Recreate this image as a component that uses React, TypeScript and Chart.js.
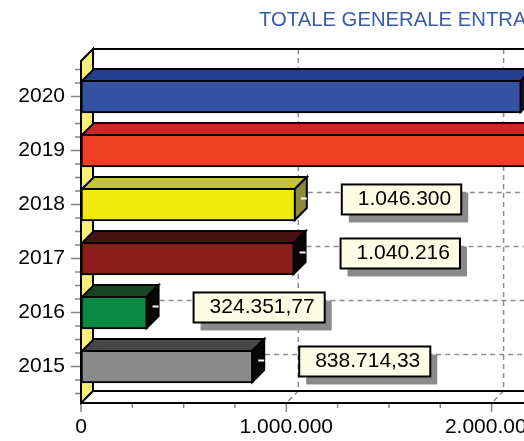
import React, { useEffect, useRef } from 'react';
import { Chart, registerables } from 'chart.js';

Chart.register(...registerables);

// ---- data ----
const years = ['2015', '2016', '2017', '2018', '2019', '2020'];
const values = [838714.33, 324351.77, 1040216, 1046300, 2300000, 2146000];
const xTickValues = [0, 1000000, 2000000, 3000000];
const titleText = 'TOTALE GENERALE ENTRATE';

// ---- styles ----
const frontColors = ['#8a8a8a', '#0b8a45', '#8a1e1b', '#f0ea0f', '#ef4024', '#3452a4'];
const topColors = ['#474747', '#194522', '#461312', '#c5c732', '#c82b26', '#263e90'];
const sideColors = ['#080808', '#050805', '#0a0505', '#8d8b3a', '#3a0a08', '#0c1430'];

const W = 830;
const H = 441;
const DEPTH = 12;
const X_MAX = 3550000;
const FONT = '"Liberation Sans", Arial, Helvetica, sans-serif';

function fmt(v: number): string {
  const isInt = Math.abs(v - Math.round(v)) < 1e-9;
  const s = isInt ? Math.round(v).toString() : v.toFixed(2);
  const [ip, dp] = s.split('.');
  const g = ip.replace(/\B(?=(\d{3})+(?!\d))/g, '.');
  return dp ? g + ',' + dp : g;
}

function poly(ctx: CanvasRenderingContext2D, pts: number[][]) {
  ctx.beginPath();
  ctx.moveTo(pts[0][0], pts[0][1]);
  for (let i = 1; i < pts.length; i++) ctx.lineTo(pts[i][0], pts[i][1]);
  ctx.closePath();
  ctx.fill();
  ctx.stroke();
}

const threeD = {
  id: 'threeD',
  beforeDatasetsDraw(chart: any) {
    const ctx: CanvasRenderingContext2D = chart.ctx;
    const { left: L, right: R, top: T, bottom: B } = chart.chartArea;
    const D = DEPTH;
    const xs = chart.scales.x;
    ctx.save();
    // back wall + floor fill
    ctx.fillStyle = '#ffffff';
    ctx.fillRect(L + D, T - D, R - L, B - T);
    ctx.beginPath();
    ctx.moveTo(L, B);
    ctx.lineTo(L + D, B - D);
    ctx.lineTo(R + D, B - D);
    ctx.lineTo(R, B);
    ctx.closePath();
    ctx.fill();
    // gridlines
    ctx.strokeStyle = '#8c8c8c';
    ctx.lineWidth = 1.5;
    ctx.setLineDash([5, 4]);
    xTickValues.forEach((v) => {
      if (v === 0) return;
      const px = xs.getPixelForValue(v);
      ctx.beginPath();
      ctx.moveTo(px + D, T - D);
      ctx.lineTo(px + D, B - D);
      ctx.lineTo(px, B);
      ctx.stroke();
    });
    // leader lines
    const meta = chart.getDatasetMeta(0);
    meta.data.forEach((el: any) => {
      const { x, y } = el.getProps(['x', 'y'], true);
      ctx.beginPath();
      ctx.moveTo(x + D, y - D);
      ctx.lineTo(R + D, y - D);
      ctx.stroke();
    });
    ctx.setLineDash([]);
    // left wall
    ctx.fillStyle = '#f6f07a';
    ctx.strokeStyle = '#000';
    ctx.lineWidth = 2;
    poly(ctx, [[L, T], [L + D, T - D], [L + D, B - D], [L, B]]);
    // edges
    ctx.beginPath();
    ctx.moveTo(L + D, T - D);
    ctx.lineTo(R + D, T - D);
    ctx.moveTo(L + D, B - D);
    ctx.lineTo(R + D, B - D);
    ctx.moveTo(L, B);
    ctx.lineTo(R, B);
    ctx.stroke();
    ctx.restore();
  },
  afterDatasetsDraw(chart: any) {
    const ctx: CanvasRenderingContext2D = chart.ctx;
    const D = DEPTH;
    const meta = chart.getDatasetMeta(0);
    ctx.save();
    ctx.lineWidth = 2;
    ctx.lineJoin = 'miter';
    meta.data.forEach((el: any, i: number) => {
      const { x, y, base, height } = el.getProps(['x', 'y', 'base', 'height'], true);
      const t = y - height / 2 + 1;
      const b = y + height / 2 - 1;
      const xe = x - 1;
      const xb = base + 1;
      ctx.strokeStyle = '#000';
      ctx.fillStyle = topColors[i];
      poly(ctx, [[xb, t], [xb + D, t - D], [xe + D, t - D], [xe, t]]);
      ctx.fillStyle = sideColors[i];
      poly(ctx, [[xe, t], [xe + D, t - D], [xe + D, b - D], [xe, b]]);
      ctx.strokeStyle = '#ffffff';
      ctx.beginPath();
      ctx.moveTo(xe + D / 2, y - D / 2);
      ctx.lineTo(xe + D, y - D / 2);
      ctx.stroke();
    });
    ctx.restore();
  },
  afterDraw(chart: any) {
    const ctx: CanvasRenderingContext2D = chart.ctx;
    const { left: L, top: T, bottom: B } = chart.chartArea;
    const xs = chart.scales.x;
    const ys = chart.scales.y;
    ctx.save();
    // ticks
    ctx.strokeStyle = '#858585';
    ctx.lineWidth = 1.5;
    ctx.beginPath();
    for (let k = -2; k <= 22; k++) {
      const v = k / 4;
      const py = ys.getPixelForValue(v);
      const major = k % 4 === 0;
      ctx.moveTo(major ? L - 10 : L - 6, py);
      ctx.lineTo(L - 1, py);
    }
    for (let v = 0; v <= X_MAX; v += 250000) {
      const px = xs.getPixelForValue(v);
      const major = v % 1000000 === 0;
      ctx.moveTo(px, B + 1);
      ctx.lineTo(px, major ? B + 9 : B + 5);
    }
    ctx.stroke();
    // front-left edge
    ctx.strokeStyle = '#000';
    ctx.lineWidth = 2;
    ctx.beginPath();
    ctx.moveTo(L, T);
    ctx.lineTo(L, B);
    ctx.stroke();
    // label boxes
    const meta = chart.getDatasetMeta(0);
    ctx.font = '21px ' + FONT;
    ctx.textBaseline = 'middle';
    ctx.textAlign = 'left';
    meta.data.forEach((el: any, i: number) => {
      const { x, y } = el.getProps(['x', 'y'], true);
      const txt = fmt(values[i]);
      const tw = ctx.measureText(txt).width;
      const bx = x + 46;
      const by = y - 20;
      const bw = tw + 26;
      const bh = 30;
      ctx.fillStyle = '#8a8a8a';
      ctx.fillRect(bx + 7, by + 8, bw, bh);
      ctx.fillStyle = '#fdfde6';
      ctx.fillRect(bx, by, bw, bh);
      ctx.strokeStyle = '#000';
      ctx.lineWidth = 2;
      ctx.strokeRect(bx, by, bw, bh);
      ctx.fillStyle = '#000';
      ctx.fillText(txt, bx + 16, by + 15);
    });
    ctx.restore();
  },
};

export default function App() {
  const ref = useRef<HTMLCanvasElement>(null);
  useEffect(() => {
    const chartRight = 81 + (X_MAX / 1000000) * 205.3;
    const chart = new Chart(ref.current as HTMLCanvasElement, {
      type: 'bar',
      data: {
        datasets: [
          {
            data: values.map((v, i) => ({ x: v, y: i })),
            backgroundColor: frontColors,
            borderColor: '#000',
            borderWidth: 2,
            borderSkipped: false,
            barThickness: 33,
          } as any,
        ],
      },
      options: {
        responsive: false,
        animation: false,
        indexAxis: 'y',
        layout: { padding: { left: 0, right: W - chartRight, top: 0, bottom: 0 } },
        plugins: {
          legend: { display: false },
          tooltip: { enabled: false },
          title: {
            display: true,
            text: titleText,
            color: '#3a5bab',
            font: { family: FONT, size: 20.3, weight: 'normal' },
            padding: { top: 8, bottom: 28.6 },
          },
        },
        scales: {
          x: {
            type: 'linear',
            min: 0,
            max: X_MAX,
            bounds: 'data',
            offset: false,
            grid: { display: false, drawTicks: false, offset: false },
            border: { display: false },
            ticks: {
              padding: 12,
              color: '#000',
              font: { family: FONT, size: 21 },
              autoSkip: false,
              maxRotation: 0,
              callback: (v: any) => fmt(Number(v)),
            },
            afterBuildTicks: (s: any) => {
              s.ticks = xTickValues.map((v) => ({ value: v }));
            },
            afterFit: (s: any) => {
              s.height = 38;
            },
          },
          y: {
            type: 'linear',
            min: -0.676,
            max: 5.657,
            bounds: 'data',
            offset: false,
            grid: { display: false, drawTicks: false, offset: false },
            border: { display: false },
            ticks: {
              padding: 16,
              color: '#000',
              font: { family: FONT, size: 21 },
              autoSkip: false,
              callback: (v: any) => years[Math.round(Number(v))] ?? '',
            },
            afterBuildTicks: (s: any) => {
              s.ticks = years.map((_, i) => ({ value: i }));
            },
            afterFit: (s: any) => {
              s.width = 81;
            },
          },
        },
      } as any,
      plugins: [threeD],
    });
    return () => chart.destroy();
  }, []);
  return (
    <div
      style={{
        position: 'fixed',
        left: 0,
        top: 0,
        width: 524,
        height: 441,
        overflow: 'hidden',
        background: '#fff',
      }}
    >
      <canvas ref={ref} width={W} height={H} style={{ display: 'block', width: W, height: H }} />
    </div>
  );
}
